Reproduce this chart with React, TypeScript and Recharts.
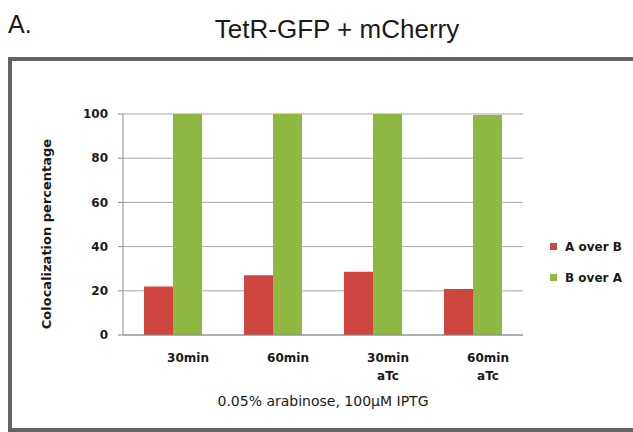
import React from "react";
import { BarChart, Bar, XAxis, YAxis, CartesianGrid, Legend } from "recharts";

const categories = ["30min", "60min", "30min\naTc", "60min\naTc"];
const aOverB = [22, 27, 28.6, 20.8];
const bOverA = [100, 100, 100, 99.5];
const yTicks = [0, 20, 40, 60, 80, 100];
const boundaryTicks = [1, 2, 3];
const seriesNames = ["A over B", "B over A"];
const seriesColors = ["#CF4641", "#8FB843"];

const data = categories.map((c, i) => ({ cat: c, a: aOverB[i], b: bOverA[i] }));

const smallFont = "'DejaVu Sans', sans-serif";

const XTick = (props: any) => {
  const { x, y, payload } = props;
  const lines = String(payload.value).split("\n");
  return (
    <text x={x + 15} y={y} textAnchor="middle" fontFamily={smallFont} fontSize={12} fontWeight="bold" fill="#1a1a1a">
      {lines.map((l: string, i: number) => (
        <tspan key={i} x={x + 15} dy={i === 0 ? 19 : 18}>
          {l}
        </tspan>
      ))}
    </text>
  );
};

const EmptyTick = () => <g />;

const LegendContent = (props: any) => {
  const { payload } = props;
  return (
    <div style={{ width: 100, whiteSpace: "nowrap", fontFamily: smallFont, fontSize: 12, fontWeight: "bold", color: "#1a1a1a" }}>
      {(payload || []).map((p: any, i: number) => (
        <div key={i} style={{ display: "flex", alignItems: "center", height: 31 }}>
          <span style={{ display: "inline-block", width: 7, height: 7, background: p.color, marginRight: 8 }} />
          <span>{p.value}</span>
        </div>
      ))}
    </div>
  );
};

const YLabel = () => (
  <text
    x={46}
    y={234}
    transform="rotate(-90 46 234)"
    textAnchor="middle"
    dominantBaseline="central"
    fontFamily={smallFont}
    fontSize={13}
    fontWeight="bold"
    fill="#1a1a1a"
  >
    Colocalization percentage
  </text>
);

export default function App() {
  return (
    <div style={{ position: "absolute", left: 0, top: 0, width: 633, height: 432, overflow: "hidden", background: "#fff" }}>
      <div
        style={{
          position: "absolute",
          left: 8,
          top: 57,
          width: 700,
          height: 375,
          border: "4px solid #636363",
          boxSizing: "border-box",
        }}
      />
      <div
        style={{
          position: "absolute",
          left: 8,
          top: 12,
          fontFamily: "'Liberation Sans', Arial, sans-serif",
          fontSize: 25,
          lineHeight: "25px",
          color: "#1a1a1a",
        }}
      >
        A.
      </div>
      <div
        style={{
          position: "absolute",
          left: 337,
          top: 16,
          transform: "translateX(-50%)",
          whiteSpace: "nowrap",
          fontFamily: "'Liberation Sans', Arial, sans-serif",
          fontSize: 26,
          lineHeight: "26px",
          color: "#1a1a1a",
        }}
      >
        TetR-GFP + mCherry
      </div>
      <div style={{ position: "absolute", left: 0, top: 0 }}>
        <BarChart
          width={633}
          height={432}
          data={data}
          margin={{ top: 114, right: 110, left: 63, bottom: 57 }}
          barCategoryGap="21%"
          barGap={0}
        >
          <CartesianGrid horizontal={true} vertical={false} stroke="#a8a8a8" />
          <XAxis
            xAxisId="bounds"
            type="number"
            domain={[0, 4]}
            ticks={boundaryTicks}
            height={0}
            axisLine={false}
            tickSize={4}
            tickLine={{ stroke: "#8a8a8a" }}
            tick={<EmptyTick />}
            allowDataOverflow
          />
          <XAxis
            dataKey="cat"
            height={40}
            tickLine={false}
            axisLine={{ stroke: "#8a8a8a" }}
            tick={<XTick />}
            interval={0}
            label={{
              value: "0.05% arabinose, 100\u03bcM IPTG",
              position: "bottom",
              offset: 21,
              fontFamily: smallFont,
              fontSize: 14,
              fill: "#1a1a1a",
            }}
          />
          <YAxis
            width={60}
            domain={[0, 100]}
            ticks={yTicks}
            tickSize={5}
            tickMargin={10}
            axisLine={{ stroke: "#8a8a8a" }}
            tickLine={{ stroke: "#8a8a8a" }}
            tick={{ fontFamily: smallFont, fontSize: 12, fontWeight: "bold", fill: "#1a1a1a" }}
            label={<YLabel />}
          />
          <Legend
            layout="vertical"
            content={<LegendContent />}
            wrapperStyle={{ position: "absolute", left: 550, top: 231, width: 0, height: 0, overflow: "visible" }}
          />
          <Bar dataKey="a" name={seriesNames[0]} fill={seriesColors[0]} isAnimationActive={false} />
          <Bar dataKey="b" name={seriesNames[1]} fill={seriesColors[1]} isAnimationActive={false} />
        </BarChart>
      </div>
    </div>
  );
}
